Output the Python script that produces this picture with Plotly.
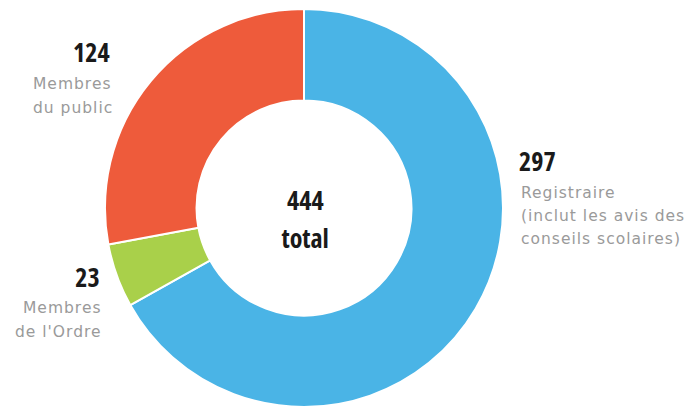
import plotly.graph_objects as go

labels = ["Registraire", "Membres de l'Ordre", "Membres du public"]
values = [297, 23, 124]
colors = ["#4AB4E6", "#A9D04A", "#EE5B3B"]
total_label = "total"

W, H = 700, 411
OFF = 8  # body margin of the page

def px(x):
    return (x - OFF) / W

def py(y):
    return 1 - (y - OFF) / H

fig = go.Figure(go.Pie(
    labels=labels, values=values, hole=0.54, sort=False,
    direction="clockwise", rotation=0,
    marker=dict(colors=colors, line=dict(color="white", width=2)),
    textinfo="none", hoverinfo="label+value",
    domain=dict(x=[px(105), px(503)], y=[py(407), py(9)]),
    showlegend=False,
))

numfont = dict(family="Open Sans", size=26, color="#1a1a1a", weight="bold")
txtfont = dict(family="DejaVu Sans", size=15.5, color="#9a9a9a")

anns = []
def add(text, x, y, font, xanchor):
    anns.append(dict(text=text, x=px(x), y=py(y), xref="paper", yref="paper",
                     showarrow=False, font=font, xanchor=xanchor, yanchor="middle",
                     align=xanchor))

add(str(values[2]), 112, 52, numfont, "right")
add("Membres", 114, 84, txtfont, "right")
add("du public", 115, 108, txtfont, "right")
add(str(values[1]), 102, 277, numfont, "right")
add("Membres", 104, 308, txtfont, "right")
add("de l'Ordre", 104, 332, txtfont, "right")
add(str(values[0]), 517, 161, numfont, "left")
add("Registraire", 519, 193, txtfont, "left")
add("(inclut les avis des", 519, 216, txtfont, "left")
add("conseils scolaires)", 519, 239, txtfont, "left")
add(str(sum(values)), 305, 200, numfont, "center")
add(total_label, 305, 238, numfont, "center")

fig.update_layout(width=W, height=H, margin=dict(l=0, r=0, t=0, b=0),
                  paper_bgcolor="white", plot_bgcolor="white", annotations=anns)

post = """
var gd = document.getElementById('{plot_id}');
gd.querySelectorAll('.annotation-text').forEach(function(t){
  var s = t.textContent;
  if (/^\\d+$|^total$/.test(s)) { t.style.fontStretch = 'condensed'; }
  else { t.style.letterSpacing = '1px'; }
});
"""
fig.write_html("out.html", post_script=post)
